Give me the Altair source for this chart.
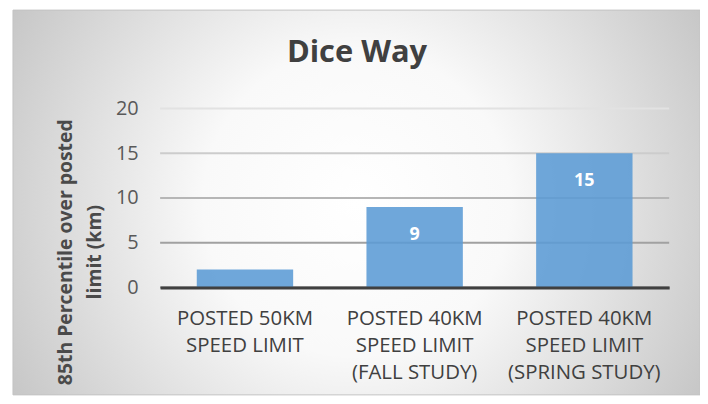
import altair as alt
import pandas as pd

# ---- data ----
categories = [
    "POSTED 50KM\nSPEED LIMIT",
    "POSTED 40KM\nSPEED LIMIT\n(FALL STUDY)",
    "POSTED 40KM\nSPEED LIMIT\n(SPRING STUDY)",
]
values = [2, 9, 15]
value_labels = ["", "9", "15"]
y_ticks = [0, 5, 10, 15, 20]
y_title = ["85th Percentile over posted", "limit (km)"]
chart_title = "Dice Way"

df = pd.DataFrame({"category": categories, "value": values, "label": value_labels})
grid_df = pd.DataFrame({"tick": y_ticks})
bg_df = pd.DataFrame({"bg": [0]})

W, H = 512, 180
FONT = "Open Sans"

y_scale = alt.Scale(domain=[0, 20], nice=False)
y_axis = alt.Axis(
    values=y_ticks, grid=False, domain=False, ticks=False, tickSize=0,
    labelPadding=22, labelFont=FONT, labelFontSize=20, labelColor="#595959",
    title=y_title, titleFont=FONT, titleFontSize=19.5, titleFontWeight="bold",
    titleColor="#4a4a4a", titleAngle=270, titleX=-89, titleY=144,
    titleAlign="center", titleBaseline="alphabetic", titleLineHeight=29,
    zindex=1,
)
x_axis = alt.Axis(
    labelExpr="split(datum.label, '\\n')", labelAngle=0, labelFont=FONT,
    labelFontSize=20.5, labelColor="#404040", labelLineHeight=27.5,
    labelPadding=21, labelLimit=0, ticks=False, tickSize=0,
    domainColor="#404040", domainWidth=3, grid=False, zindex=1,
    labelBaseline="top",
)
x_enc = alt.X(
    "category:N", sort=categories, title=None,
    scale=alt.Scale(paddingInner=0.432, paddingOuter=0.216), axis=x_axis,
)

background = alt.Chart(bg_df).mark_rect(
    color=alt.Gradient(
        gradient="radial",
        stops=[
            alt.GradientStop(color="#ffffff", offset=0),
            alt.GradientStop(color="#f9f9f9", offset=0.35),
            alt.GradientStop(color="#bdbdbd", offset=1),
        ],
        x1=0.5, y1=0.5, r1=0, x2=0.5, y2=0.5, r2=0.64,
    ),
    stroke="#c4c4c4", strokeWidth=1,
).encode(
    x=alt.value(-148), x2=alt.value(W + 31),
    y=alt.value(-99), y2=alt.value(H + 108),
)

grid = alt.Chart(grid_df).mark_rule(strokeWidth=2).encode(
    y=alt.Y("tick:Q", scale=y_scale, axis=y_axis),
    color=alt.Color("tick:Q", scale=alt.Scale(domain=[0, 20], range=["#8c8c8c", "#e2e2e2"]), legend=None),
)

bars = alt.Chart(df).mark_bar(color="#5b9bd5", opacity=0.88).encode(
    x=x_enc,
    y=alt.Y("value:Q", scale=y_scale, axis=y_axis),
)

labels = alt.Chart(df).mark_text(
    color="white", font=FONT, fontSize=18, fontWeight="bold", baseline="top", dy=19,
).encode(
    x=x_enc,
    y=alt.Y("value:Q", scale=y_scale, axis=y_axis),
    text="label:N",
)

chart = alt.layer(background, grid, bars, labels).properties(
    width=W, height=H,
    title=alt.TitleParams(
        chart_title, font=FONT, fontSize=31, fontWeight="bold", color="#404040",
        frame="group", anchor="middle", dx=-58, dy=64,
    ),
    autosize=alt.AutoSizeParams(type="none"),
    padding={"left": 153, "top": 100, "right": 31, "bottom": 108},
).configure_view(stroke=None).configure(background="white")

chart.save("out.html", embed_options={"renderer": "svg", "actions": False})
